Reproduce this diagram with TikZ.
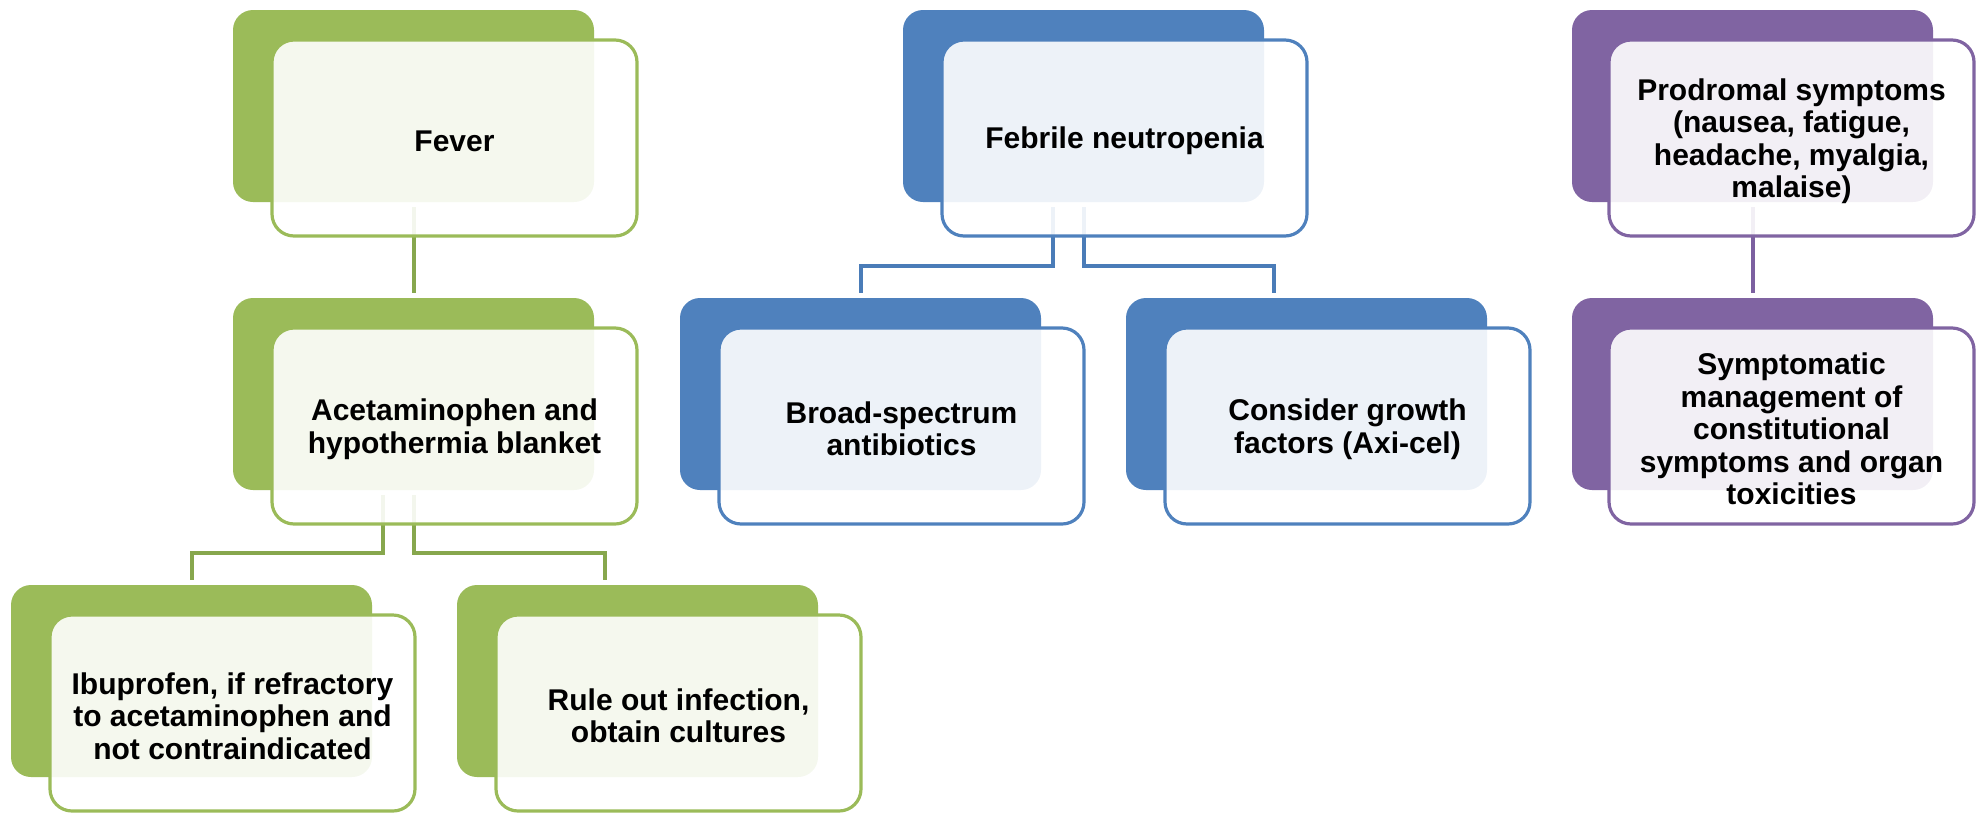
\documentclass[tikz,border=0pt]{standalone}
\usepackage{fontspec}
\setmainfont{Liberation Sans}
\definecolor{gA}{HTML}{9BBB59}
\definecolor{gC}{HTML}{87A74D}
\definecolor{bA}{HTML}{4F81BD}
\definecolor{bC}{HTML}{4A7CB8}
\definecolor{pA}{HTML}{8064A2}
\definecolor{pC}{HTML}{7C60A0}
\tikzset{
  backbox/.style={rectangle, rounded corners=20pt, minimum width=361pt, minimum height=192pt, inner sep=0pt, outer sep=0pt, draw=none},
  frontbox/.style={rectangle, rounded corners=22pt, minimum width=365pt, minimum height=196pt, inner sep=0pt, outer sep=0pt, line width=3.2pt, fill=white, fill opacity=0.9},
  boxtext/.style={inner sep=0pt, align=center, font=\bfseries\fontsize{30}{32.5}\selectfont, text=black},
  conn/.style={line width=4pt}
}
\newcommand\backat[4]{\node[backbox, fill=#4] (#1b) at ({#2+180.5},{#3+96}) {};}
\newcommand\frontat[5]{\node[frontbox, draw=#4] (#1f) at ({#2+221.5},{#3+128}) {};
  \node[boxtext] (#1t) at ([yshift=-3pt]#1f.center) {#5};}
\begin{document}
\begin{tikzpicture}[x=1pt,y=-1pt]
\useasboundingbox (0,0) rectangle (1982,812);
% back boxes
\backat{fever}{233}{10}{gA}
\backat{acet}{233}{298}{gA}
\backat{ibu}{11}{585}{gA}
\backat{rule}{457}{585}{gA}
\backat{febr}{903}{10}{bA}
\backat{broad}{680}{298}{bA}
\backat{cons}{1126}{298}{bA}
\backat{prod}{1572}{10}{pA}
\backat{symp}{1572}{298}{pA}
% connectors
\draw[conn, gC] ([yshift=-5pt]feverb.south) -- ([yshift=5pt]acetb.north);
\draw[conn, gC] ([xshift=-31pt,yshift=-5pt]acetb.south) |- ([yshift=32pt]ibub.north) -- ([yshift=5pt]ibub.north);
\draw[conn, gC] ([yshift=-5pt]acetb.south) |- ([xshift=-33pt,yshift=32pt]ruleb.north) -- ([xshift=-33pt,yshift=5pt]ruleb.north);
\draw[conn, bC] ([xshift=-31pt,yshift=-5pt]febrb.south) |- ([yshift=32pt]broadb.north) -- ([yshift=5pt]broadb.north);
\draw[conn, bC] ([yshift=-5pt]febrb.south) |- ([xshift=-33pt,yshift=32pt]consb.north) -- ([xshift=-33pt,yshift=5pt]consb.north);
\draw[conn, pC] ([yshift=-5pt]prodb.south) -- ([yshift=5pt]sympb.north);
% front boxes
\frontat{fever}{233}{10}{gA}{Fever}
\frontat{acet}{233}{298}{gA}{Acetaminophen and\\hypothermia blanket}
\frontat{ibu}{11}{585}{gA}{Ibuprofen, if refractory\\to acetaminophen and\\not contraindicated}
\frontat{rule}{457}{585}{gA}{Rule out infection,\\obtain cultures}
\frontat{febr}{903}{10}{bA}{Febrile neutropenia}
\frontat{broad}{680}{298}{bA}{Broad-spectrum\\antibiotics}
\frontat{cons}{1126}{298}{bA}{Consider growth\\factors (Axi-cel)}
\frontat{prod}{1570}{10}{pA}{Prodromal symptoms\\(nausea, fatigue,\\headache, myalgia,\\malaise)}
\frontat{symp}{1570}{298}{pA}{Symptomatic\\management of\\constitutional\\symptoms and organ\\toxicities}
\end{tikzpicture}
\end{document}
